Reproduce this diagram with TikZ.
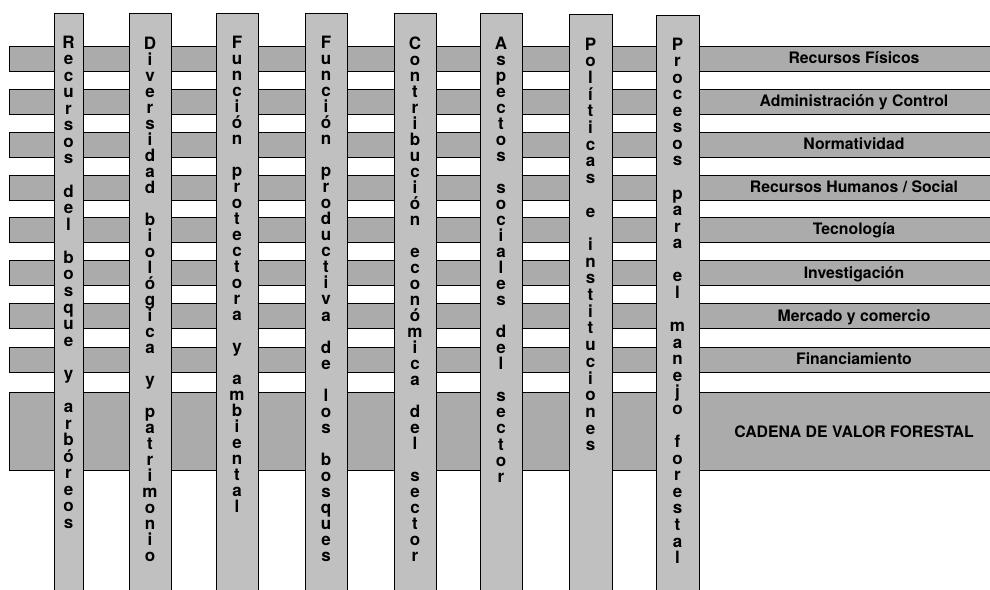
\documentclass[tikz,border=0pt]{standalone}
\usepackage{fontspec}
\setmainfont{TeX Gyre Heros}
\definecolor{barfill}{HTML}{ABABAB}
\definecolor{colfill}{HTML}{C0C0C0}
\newcommand\stackletters[5]{% name, x, first baseline, step, list
  \foreach \ch [count=\k] in {#5} {
    \node[letter] (#1-\k) at (#2,{#3+(\k-1)*#4}) {\ch};
  }
}
\begin{document}
\begin{tikzpicture}[x=1pt,y=-1pt,
  barbox/.style={rectangle, draw=black, line width=1.3pt, fill=barfill, inner sep=0pt, anchor=north west, minimum width=1000pt},
  colbox/.style={rectangle, draw=black, line width=1.3pt, fill=colfill, inner sep=0pt, anchor=north west, minimum height=620pt},
  letter/.style={anchor=base, inner sep=0pt, font=\bfseries\fontsize{17}{17}\selectfont},
  rlabel/.style={anchor=base, inner sep=0pt, font=\bfseries\fontsize{15.8}{16}\selectfont}]
\useasboundingbox (0,0) rectangle (990,589);
\clip (0,0) rectangle (990,589);
% horizontal bars
\foreach \t [count=\i] in {45.5,88.5,131.5,174.5,216.5,260,303,346.5} {
  \node[barbox, minimum height=25pt] (bar\i) at (9,\t) {};
}
\node[barbox, minimum height=78pt] (bar9) at (9,392) {};
% vertical columns
\node[colbox, minimum width=29pt] (c1) at (54,13) {};
\node[colbox, minimum width=42pt] (c2) at (129,13) {};
\node[colbox, minimum width=42pt] (c3) at (216,13) {};
\node[colbox, minimum width=42pt] (c4) at (305,13) {};
\node[colbox, minimum width=42pt] (c5) at (394,13) {};
\node[colbox, minimum width=42pt] (c6) at (480,13) {};
\node[colbox, minimum width=43pt] (c7) at (569,14) {};
\node[colbox, minimum width=43pt] (c8) at (656,15) {};
% column texts
\stackletters{t1}{68.5}{48}{16.57}{R,e,c,u,r,s,o,s,,d,e,l,,b,o,s,q,u,e,,y,,a,r,b,ó,r,e,o,s}
\stackletters{t2}{150}{49}{16.0}{D,i,v,e,r,s,i,d,a,d,,b,i,o,l,ó,g,i,c,a,,y,,p,a,t,r,i,m,o,n,i,o}
\stackletters{t3}{237}{48.5}{16.0}{F,u,n,c,i,ó,n,,p,r,o,t,e,c,t,o,r,a,,y,,a,m,b,i,e,n,t,a,l}
\stackletters{t4}{326}{48.5}{16.03}{F,u,n,c,i,ó,n,,p,r,o,d,u,c,t,i,v,a,,d,e,,l,o,s,,b,o,s,q,u,e,s}
\stackletters{t5}{415}{49}{16.0}{C,o,n,t,r,i,b,u,c,i,ó,n,,e,c,o,n,ó,m,i,c,a,,d,e,l,,s,e,c,t,o,r}
\stackletters{t6}{501}{49}{16.04}{A,s,p,e,c,t,o,s,,s,o,c,i,a,l,e,s,,d,e,l,,s,e,c,t,o,r}
\stackletters{t7}{590.5}{50}{16.7}{P,o,l,í,t,i,c,a,s,,e,,i,n,s,t,i,t,u,c,i,o,n,e,s}
\stackletters{t8}{677.5}{50}{16.57}{P,r,o,c,e,s,o,s,,p,a,r,a,,e,l,,m,a,n,e,j,o,,f,o,r,e,s,t,a,l}
% right labels
\node[rlabel] (l1) at (854,63.5) {Recursos Físicos};
\node[rlabel] (l2) at (854,106.5) {Administración y Control};
\node[rlabel] (l3) at (854,149.5) {Normatividad};
\node[rlabel] (l4) at (854,192.5) {Recursos Humanos / Social};
\node[rlabel] (l5) at (854,234.5) {Tecnología};
\node[rlabel] (l6) at (854,278) {Investigación};
\node[rlabel] (l7) at (854,321) {Mercado y comercio};
\node[rlabel] (l8) at (854,364.5) {Financiamiento};
\node[rlabel] (l9) at (854,437) {CADENA DE VALOR FORESTAL};
\end{tikzpicture}
\end{document}
